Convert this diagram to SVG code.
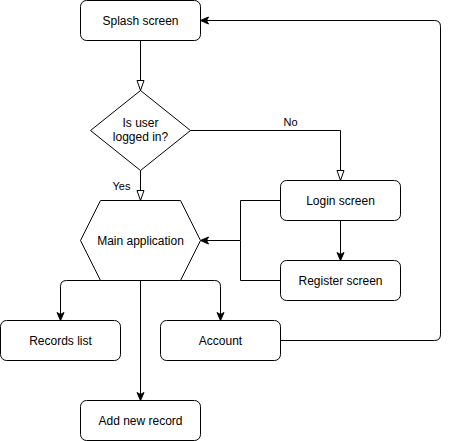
<svg xmlns="http://www.w3.org/2000/svg" width="449" height="441" viewBox="0 0 449 441">
<style>
.n{fill:#fff;stroke:#000;stroke-width:1}
.e{fill:none;stroke:#000;stroke-width:1}
text{font-family:"Liberation Sans",Arial,sans-serif;font-size:12px;fill:#000;text-anchor:middle;dominant-baseline:central}
.lbl{font-size:11px}
</style>
<defs>
<marker id="classic" viewBox="0 0 8 7" refX="8" refY="3.5" markerWidth="8" markerHeight="7" markerUnits="userSpaceOnUse" orient="auto" overflow="visible">
<path d="M0,0 L8,3.5 L0,7 L2,3.5 Z" fill="#000" stroke="#000" stroke-width="1"/>
</marker>
<marker id="block" viewBox="0 0 10 7" refX="10" refY="3.5" markerWidth="10" markerHeight="7" markerUnits="userSpaceOnUse" orient="auto" overflow="visible">
<path d="M0,0 L10,3.5 L0,7 Z" fill="#fff" stroke="#000" stroke-width="1"/>
</marker>
</defs>
<g transform="translate(0.5,0.5)">
<g id="connectors">
<path class="e" d="M140,40 L140,90" marker-end="url(#block)"/>
<path class="e" d="M190,130 L340,130 L340,180" marker-end="url(#block)"/>
<path class="e" d="M140,170 L140,200" marker-end="url(#block)"/>
<path class="e" d="M280,200 L240,200 L240,240 L200,240" marker-end="url(#classic)"/>
<path class="e" d="M280,280 L240,280 L240,240"/>
<path class="e" d="M340,220 L340,260" marker-end="url(#classic)"/>
<path class="e" d="M140,280 L66,280 Q60,280 60,286 L60,320" marker-end="url(#classic)"/>
<path class="e" d="M140,280 L214,280 Q220,280 220,286 L220,320" marker-end="url(#classic)"/>
<path class="e" d="M140,280 L140,400" marker-end="url(#classic)"/>
<path class="e" d="M280,340 L434,340 Q440,340 440,334 L440,26 Q440,20 434,20 L200,20" marker-end="url(#classic)"/>
<text class="lbl" x="290" y="121">No</text>
<text class="lbl" x="121" y="185">Yes</text>
</g>
<g id="splash">
<rect class="n" x="80" y="0" width="120" height="40" rx="6" ry="6"/>
<text x="140" y="20">Splash screen</text>
</g>
<g id="decision">
<path class="n" d="M140,90 L190,130 L140,170 L90,130 Z"/>
<text x="140" y="122">Is user</text>
<text x="140" y="136">logged in?</text>
</g>
<g id="main">
<path class="n" d="M80,240 L100,200 L180,200 L200,240 L180,280 L100,280 Z"/>
<text x="140" y="240">Main application</text>
</g>
<g id="login">
<rect class="n" x="280" y="180" width="120" height="40" rx="6" ry="6"/>
<text x="340" y="200">Login screen</text>
</g>
<g id="register">
<rect class="n" x="280" y="260" width="120" height="40" rx="6" ry="6"/>
<text x="340" y="280">Register screen</text>
</g>
<g id="records">
<rect class="n" x="0" y="320" width="120" height="40" rx="6" ry="6"/>
<text x="60" y="340">Records list</text>
</g>
<g id="account">
<rect class="n" x="160" y="320" width="120" height="40" rx="6" ry="6"/>
<text x="220" y="340">Account</text>
</g>
<g id="addrecord">
<rect class="n" x="80" y="400" width="120" height="40" rx="6" ry="6"/>
<text x="140" y="420">Add new record</text>
</g>
</g>
</svg>
